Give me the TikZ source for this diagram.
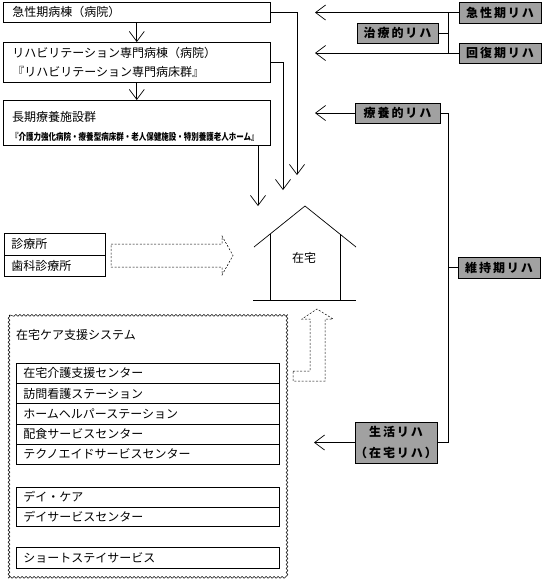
\documentclass[tikz,border=0pt]{standalone}
\usepackage{fontspec}
\setmainfont{Noto Sans CJK JP}
\newfontfamily\jpsp[LetterSpace=16]{Noto Sans CJK JP}
\usetikzlibrary{arrows.meta,decorations.pathmorphing}
\definecolor{rehagray}{gray}{0.63}
\begin{document}
\begin{tikzpicture}[x=1pt,y=-1pt,
  lbox/.style={draw, line width=0.6pt, anchor=north west, inner xsep=9pt, inner ysep=0pt,
     text width=249pt, align=left, font=\fontsize{12}{19}\selectfont},
  row/.style={draw, line width=0.6pt, anchor=north west, minimum height=20.2pt, inner xsep=7pt,
     inner ysep=0pt, text width=249pt, align=left, font=\fontsize{12}{14}\selectfont},
  crow/.style={row, text width=87pt, minimum height=21.5pt},
  txt/.style={inner sep=0pt, anchor=west, font=\fontsize{12}{14}\selectfont},
  rbox/.style={draw, fill=rehagray, line width=0.7pt, inner sep=0pt, align=center,
     font=\jpsp\bfseries\fontsize{12}{21}\selectfont},
  arr/.style={line width=0.7pt, -{Straight Barb[length=10pt,width=15pt]}},
  ln/.style={line width=0.7pt},
  dsh/.style={line width=0.5pt, dash pattern=on 2pt off 1.6pt},
]
\useasboundingbox (0,0) rectangle (544,587);

% left column boxes
\node[lbox, minimum height=20pt] (b1) at (3,2) {急性期病棟（病院）};
\node[lbox, minimum height=40pt] (b2) at (3,42) {リハビリテーション専門病棟（病院）\\『リハビリテーション専門病床群』};
\node[lbox, minimum height=45pt] (b3) at (3,100) {};
\node[txt] (b3a) at (12,117) {長期療養施設群};
\node[txt] (b3b) at (11,137) {\scalebox{0.79}[1]{\bfseries\fontsize{9.5}{10}\selectfont 『介護力強化病院・療養型病床群・老人保健施設・特別養護老人ホーム』}};

\draw[arr] (b1.south) -- (b2.north);
\draw[arr] (b2.south) -- (b3.north);
\coordinate (tA) at (297,175);
\coordinate (tB) at (283,190);
\coordinate (tC) at (258,206);
\draw[arr] (b1.east) -| (tA);
\draw[arr] (b2.east) -| (tB);
\draw[arr] (tC |- b3.south) -- (tC);

% house
\draw[ln] (254,247) -- (305,206) -- (356,247);
\draw[ln] (270,234) -- (270,300);
\draw[ln] (340,234) -- (340,300);
\draw[line width=1pt] (253,300) -- (356,300);
\node[txt, anchor=center] (home) at (304,258) {在宅};

% clinics
\node[crow] (c1) at (4,233) {診療所};
\node[crow] (c2) at (4,254.5) {歯科診療所};
\draw[dsh] (111,244) -- (222,244) -- (222,236) -- (233,255.5) -- (222,275) -- (222,267) -- (111,267) -- cycle;

% home care support system
\draw[line width=0.5pt, decorate, decoration={snake, amplitude=0.9pt, segment length=4pt}] (9,315) rectangle (287,577);
\node[txt] (sys) at (16,335) {在宅ケア支援システム};
\node[row] (s1) at (16,363) {在宅介護支援センター};
\node[row] (s2) at (16,383.2) {訪問看護ステーション};
\node[row] (s3) at (16,403.4) {ホームヘルパーステーション};
\node[row] (s4) at (16,423.6) {配食サービスセンター};
\node[row] (s5) at (16,443.8) {テクノエイドサービスセンター};
\node[row, minimum height=19.5pt] (d1) at (16,487) {デイ・ケア};
\node[row, minimum height=19.5pt] (d2) at (16,506.5) {デイサービスセンター};
\node[row, minimum height=21pt] (ss) at (16,547) {ショートステイサービス};
\draw[dsh] (293,371) -- (310,371) -- (310,319) -- (302,319) -- (317,309) -- (333,319) -- (325,319) -- (325,381) -- (293,381) -- cycle;

% rehab boxes (right)
\node[rbox, minimum width=82pt, minimum height=21pt] (r1) at (500,12.5) {急性期リハ};
\node[rbox, minimum width=82pt, minimum height=20pt] (r2) at (500,53) {回復期リハ};
\node[rbox, minimum width=81pt, minimum height=20pt] (r3) at (397.5,33) {治療的リハ};
\node[rbox, minimum width=85pt, minimum height=20pt] (r4) at (397.5,113) {療養的リハ};
\node[rbox, minimum width=82pt, minimum height=21pt] (r5) at (499,267.5) {維持期リハ};
\node[rbox, minimum width=82pt, minimum height=41pt] (r6) at (396,442.5) {生活リハ\\（在宅リハ）};

\coordinate (la) at (315,12.5);
\coordinate (lb) at (315,53);
\coordinate (lc) at (315,113);
\coordinate (ld) at (314,442.5);
\coordinate (jA) at (448,12.5);
\coordinate (jB) at (448,113);
\draw[arr] (r1.west) -- (la);
\draw[arr] (r2.west) -- (lb);
\draw[ln] (jA) -- (jA |- r2.west);
\draw[ln] (r3.east) -- (r3.east -| jA);
\draw[arr] (r4.west) -- (lc);
\draw[ln] (r4.east) -- (jB) |- (r6.east);
\draw[ln] (r5.west) -- (r5.west -| jB);
\draw[arr] (r6.west) -- (ld);
\end{tikzpicture}
\end{document}
